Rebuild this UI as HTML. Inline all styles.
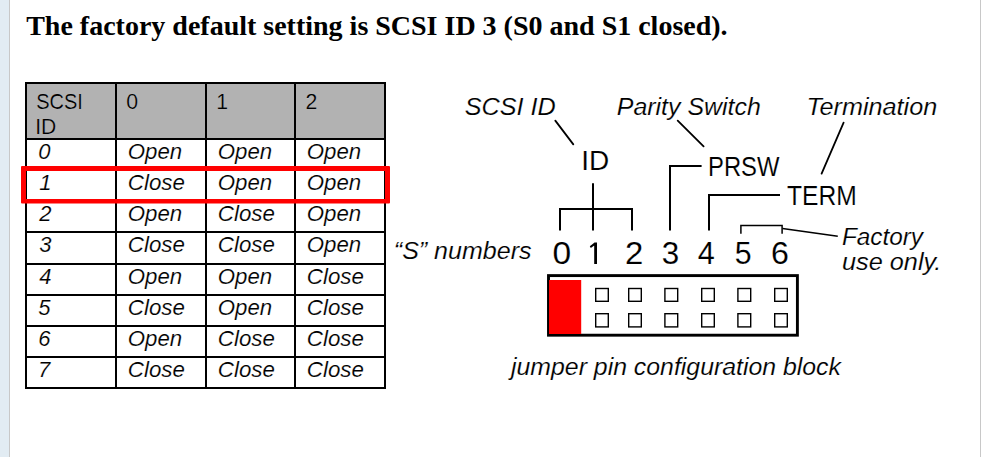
<!DOCTYPE html>
<html><head><meta charset="utf-8">
<style>
html,body{margin:0;padding:0;background:#fff;width:981px;height:457px;overflow:hidden;}
svg{display:block;}
.s{font-family:"Liberation Sans",sans-serif;stroke:#fff;stroke-width:0.12px;}
.i{font-family:"Liberation Sans",sans-serif;font-style:italic;stroke:#fff;stroke-width:0.15px;}
.t{font-family:"Liberation Serif",serif;font-weight:bold;}
</style></head><body>
<svg width="981" height="457" viewBox="0 0 981 457">
<rect x="0" y="0" width="9" height="457" fill="#E2ECF3"/>
<rect x="9" y="0" width="1" height="457" fill="#C8C8C8"/>
<rect x="980" y="0" width="1" height="457" fill="#C8C8C8"/>
<rect x="27" y="84" width="357" height="54" fill="#B2B2B2"/>
<g fill="#000">
<rect x="25" y="82" width="361" height="2"/>
<rect x="25" y="138" width="361" height="2"/>
<rect x="25" y="169" width="361" height="2"/>
<rect x="25" y="200" width="361" height="2"/>
<rect x="25" y="231" width="361" height="2"/>
<rect x="25" y="263" width="361" height="2"/>
<rect x="25" y="294" width="361" height="2"/>
<rect x="25" y="325" width="361" height="2"/>
<rect x="25" y="356" width="361" height="2"/>
<rect x="25" y="387" width="361" height="2"/>
<rect x="25" y="82" width="2" height="307"/>
<rect x="115" y="82" width="2" height="307"/>
<rect x="205" y="82" width="2" height="307"/>
<rect x="294" y="82" width="2" height="307"/>
<rect x="384" y="82" width="2" height="307"/>
</g>
<g fill="#000">
<text id="title" class="t" x="26.20" y="34.60" font-size="28" textLength="701.42" lengthAdjust="spacingAndGlyphs">The factory default setting is SCSI ID 3 (S0 and S1 closed).</text>
<text id="hS" class="s" x="36.20" y="108.75" font-size="21.3" textLength="46.69" lengthAdjust="spacingAndGlyphs">SCSI</text>
<text id="hI" class="s" x="35.20" y="133.60" font-size="21.3" textLength="21.13" lengthAdjust="spacingAndGlyphs">ID</text>
<text id="h0" class="s" x="126.20" y="108.80" font-size="21.3">0</text>
<text id="h1" class="s" x="216.20" y="108.80" font-size="21.3">1</text>
<text id="h2" class="s" x="305.60" y="108.80" font-size="21.3">2</text>
<text id="r0c0" class="i" x="38.20" y="159.00" font-size="22">0</text>
<text id="r0c1" class="i" x="127.80" y="159.00" font-size="22" textLength="54.43" lengthAdjust="spacingAndGlyphs">Open</text>
<text id="r0c2" class="i" x="217.80" y="159.00" font-size="22" textLength="54.43" lengthAdjust="spacingAndGlyphs">Open</text>
<text id="r0c3" class="i" x="306.80" y="159.00" font-size="22" textLength="54.43" lengthAdjust="spacingAndGlyphs">Open</text>
<text id="r1c0" class="i" x="39.20" y="190.13" font-size="22">1</text>
<text id="r1c1" class="i" x="127.80" y="190.13" font-size="22" textLength="57.07" lengthAdjust="spacingAndGlyphs">Close</text>
<text id="r1c2" class="i" x="217.80" y="190.13" font-size="22" textLength="54.43" lengthAdjust="spacingAndGlyphs">Open</text>
<text id="r1c3" class="i" x="306.80" y="190.13" font-size="22" textLength="54.43" lengthAdjust="spacingAndGlyphs">Open</text>
<text id="r2c0" class="i" x="39.20" y="221.26" font-size="22">2</text>
<text id="r2c1" class="i" x="127.80" y="221.26" font-size="22" textLength="54.43" lengthAdjust="spacingAndGlyphs">Open</text>
<text id="r2c2" class="i" x="217.80" y="221.26" font-size="22" textLength="57.07" lengthAdjust="spacingAndGlyphs">Close</text>
<text id="r2c3" class="i" x="306.80" y="221.26" font-size="22" textLength="54.43" lengthAdjust="spacingAndGlyphs">Open</text>
<text id="r3c0" class="i" x="39.20" y="252.39" font-size="22">3</text>
<text id="r3c1" class="i" x="127.80" y="252.39" font-size="22" textLength="57.07" lengthAdjust="spacingAndGlyphs">Close</text>
<text id="r3c2" class="i" x="217.80" y="252.39" font-size="22" textLength="57.07" lengthAdjust="spacingAndGlyphs">Close</text>
<text id="r3c3" class="i" x="306.80" y="252.39" font-size="22" textLength="54.43" lengthAdjust="spacingAndGlyphs">Open</text>
<text id="r4c0" class="i" x="39.20" y="283.52" font-size="22">4</text>
<text id="r4c1" class="i" x="127.80" y="283.52" font-size="22" textLength="54.43" lengthAdjust="spacingAndGlyphs">Open</text>
<text id="r4c2" class="i" x="217.80" y="283.52" font-size="22" textLength="54.43" lengthAdjust="spacingAndGlyphs">Open</text>
<text id="r4c3" class="i" x="306.80" y="283.52" font-size="22" textLength="57.07" lengthAdjust="spacingAndGlyphs">Close</text>
<text id="r5c0" class="i" x="38.20" y="314.65" font-size="22">5</text>
<text id="r5c1" class="i" x="127.80" y="314.65" font-size="22" textLength="57.07" lengthAdjust="spacingAndGlyphs">Close</text>
<text id="r5c2" class="i" x="217.80" y="314.65" font-size="22" textLength="54.43" lengthAdjust="spacingAndGlyphs">Open</text>
<text id="r5c3" class="i" x="306.80" y="314.65" font-size="22" textLength="57.07" lengthAdjust="spacingAndGlyphs">Close</text>
<text id="r6c0" class="i" x="38.20" y="345.78" font-size="22">6</text>
<text id="r6c1" class="i" x="127.80" y="345.78" font-size="22" textLength="54.43" lengthAdjust="spacingAndGlyphs">Open</text>
<text id="r6c2" class="i" x="217.80" y="345.78" font-size="22" textLength="57.07" lengthAdjust="spacingAndGlyphs">Close</text>
<text id="r6c3" class="i" x="306.80" y="345.78" font-size="22" textLength="57.07" lengthAdjust="spacingAndGlyphs">Close</text>
<text id="r7c0" class="i" x="38.00" y="376.91" font-size="22">7</text>
<text id="r7c1" class="i" x="127.80" y="376.91" font-size="22" textLength="57.07" lengthAdjust="spacingAndGlyphs">Close</text>
<text id="r7c2" class="i" x="217.80" y="376.91" font-size="22" textLength="57.07" lengthAdjust="spacingAndGlyphs">Close</text>
<text id="r7c3" class="i" x="306.80" y="376.91" font-size="22" textLength="57.07" lengthAdjust="spacingAndGlyphs">Close</text>
<text id="lSCSI" class="i" x="464.80" y="115.10" font-size="24.5" textLength="90.89" lengthAdjust="spacingAndGlyphs">SCSI ID</text>
<text id="lPar" class="i" x="616.80" y="114.60" font-size="24.5" textLength="143.94" lengthAdjust="spacingAndGlyphs">Parity Switch</text>
<text id="lTerm" class="i" x="806.40" y="115.00" font-size="24.5" textLength="130.89" lengthAdjust="spacingAndGlyphs">Termination</text>
<text id="lS" class="i" x="393.80" y="258.60" font-size="24.5" textLength="137.72" lengthAdjust="spacingAndGlyphs">“S” numbers</text>
<text id="lF" class="i" x="842.00" y="244.90" font-size="24.5" textLength="81.01" lengthAdjust="spacingAndGlyphs">Factory</text>
<text id="lU" class="i" x="842.00" y="269.70" font-size="24.5" textLength="99.34" lengthAdjust="spacingAndGlyphs">use only.</text>
<text id="lJ" class="i" x="511.00" y="375.00" font-size="24.5" textLength="329.97" lengthAdjust="spacingAndGlyphs">jumper pin configuration block</text>
<text id="ID" class="s" x="581.20" y="169.70" font-size="27" textLength="27.98" lengthAdjust="spacingAndGlyphs">ID</text>
<text id="PRSW" class="s" x="708.00" y="175.90" font-size="27" textLength="71.41" lengthAdjust="spacingAndGlyphs">PRSW</text>
<text id="TERM" class="s" x="787.00" y="205.20" font-size="27" textLength="69.71" lengthAdjust="spacingAndGlyphs">TERM</text>
<text id="d0" class="s" x="552.40" y="264.00" font-size="32" textLength="18.63" lengthAdjust="spacingAndGlyphs">0</text>
<text id="d2" class="s" x="625.00" y="264.00" font-size="32" textLength="18.30" lengthAdjust="spacingAndGlyphs">2</text>
<text id="d3" class="s" x="661.80" y="264.00" font-size="32" textLength="17.45" lengthAdjust="spacingAndGlyphs">3</text>
<text id="d4" class="s" x="697.80" y="264.00" font-size="32" textLength="17.04" lengthAdjust="spacingAndGlyphs">4</text>
<text id="d5" class="s" x="734.80" y="264.00" font-size="32" textLength="16.86" lengthAdjust="spacingAndGlyphs">5</text>
<text id="d6" class="s" x="771.00" y="264.00" font-size="32" textLength="17.89" lengthAdjust="spacingAndGlyphs">6</text>
</g>
<path fill="#FF0000" fill-rule="evenodd" d="M22 166 H389 Q390 166 390 167 V202.5 Q390 203.5 389 203.5 H22 Q21 203.5 21 202.5 V167 Q21 166 22 166 Z M26 171 V199 H385 V171 Z"/>
<g stroke="#000" stroke-width="1.8" fill="none" stroke-linecap="round">
<line x1="555.3" y1="120.6" x2="573.3" y2="144.4"/>
<line x1="677.7" y1="120.6" x2="703.6" y2="146.4"/>
<line x1="843.6" y1="122.6" x2="821.6" y2="173.6"/>
</g>
<g stroke="#000" stroke-width="2" fill="none">
<polyline points="560,230.6 560,209 632,209 632,230.6"/>
<line x1="593" y1="183.3" x2="593" y2="230.6"/>
<polyline points="670,230.6 670,166 701.6,166"/>
<polyline points="709,230.6 709,195 780,195"/>
</g>
<g stroke="#000" stroke-width="1.5" fill="none">
<polyline points="740.9,233.8 740.9,225.4 782.1,225.4 782.1,233.8"/>
<line x1="782.5" y1="228.4" x2="837.8" y2="236.3"/>
</g>
<path d="M594.2 242.6 L597 242.6 L597 264 L594.2 264 Z M589.8 246.2 L594.6 242.6 L595.6 244.5 L590.8 248 Z" fill="#000"/>
<rect x="548.5" y="275.6" width="248.9" height="59.6" fill="none" stroke="#000" stroke-width="2.9"/>
<rect x="549" y="280" width="32.2" height="54" fill="#FF0000"/>
<g stroke="#000" stroke-width="1.4" fill="none">
<rect x="595.7" y="288.5" width="12.6" height="12.8"/>
<rect x="628.7" y="288.5" width="12.6" height="12.8"/>
<rect x="664.9" y="288.5" width="12.8" height="12.8"/>
<rect x="701.7" y="288.5" width="12.6" height="12.8"/>
<rect x="737.9" y="288.5" width="12.8" height="12.8"/>
<rect x="774.7" y="288.5" width="12.6" height="12.8"/>
<rect x="595.7" y="313.7" width="12.6" height="13.2"/>
<rect x="628.7" y="313.7" width="12.6" height="13.2"/>
<rect x="664.9" y="313.7" width="12.8" height="13.2"/>
<rect x="701.7" y="313.7" width="12.6" height="13.2"/>
<rect x="737.9" y="313.7" width="12.8" height="13.2"/>
<rect x="774.7" y="313.7" width="12.6" height="13.2"/>
</g>
</svg>
</body></html>
